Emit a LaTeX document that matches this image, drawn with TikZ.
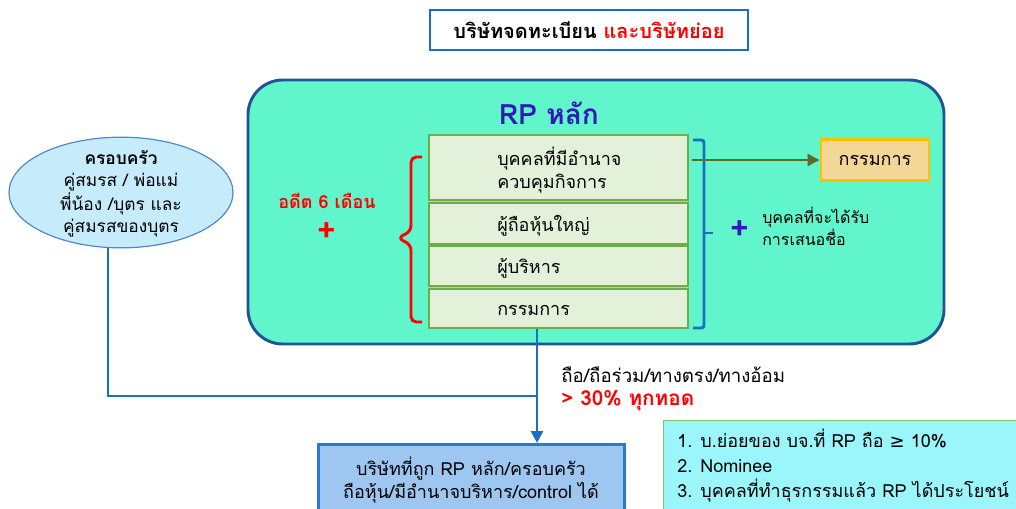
\documentclass[tikz,border=0pt]{standalone}
\usepackage{fontspec}
\setmainfont{Loma}[Script=Thai]
\newfontfamily\symfont{DejaVu Sans}
\usetikzlibrary{arrows.meta,shapes.geometric}
\definecolor{mint}{HTML}{60F5CB}
\definecolor{mainborder}{HTML}{1F5596}
\definecolor{lineblue}{HTML}{1C6DC4}
\definecolor{ellfill}{HTML}{C6ECFC}
\definecolor{ellborder}{HTML}{4E89C8}
\definecolor{boxfill}{HTML}{E3F1DB}
\definecolor{boxborder}{HTML}{70AD47}
\definecolor{dirfill}{HTML}{F2D796}
\definecolor{dirborder}{HTML}{FFC000}
\definecolor{botfill}{HTML}{9DC6F0}
\definecolor{botborder}{HTML}{2B7AD0}
\definecolor{notefill}{HTML}{9BF6FB}
\definecolor{noteborder}{HTML}{7DC36A}
\definecolor{olive}{HTML}{5E6A28}
\definecolor{rpblue}{HTML}{3418B8}
\definecolor{thred}{HTML}{FF0000}
\tikzset{
  body/.style={font=\fontsize{13.5}{17}\selectfont, inner sep=0pt},
  rolebox/.style={draw=boxborder, fill=boxfill, line width=0.9pt, inner sep=0pt},
  txt/.style={body, anchor=west, align=left},
  plussign/.style={font=\fontsize{24}{24}\selectfont\bfseries, inner sep=0pt},
}
\begin{document}
\begin{tikzpicture}[x=0.75pt,y=-0.75pt]
\useasboundingbox (0,0) rectangle (1016,508);
% top title
\node[draw=lineblue, fill=white, line width=2.2pt, minimum width=238.5pt, minimum height=30pt, inner sep=0pt,
      font=\fontsize{15}{17}\selectfont\bfseries] (title) at (589,30)
  {บริษัทจดทะเบียน \textcolor{thred}{และบริษัทย่อย}};
% main rounded box
\node[draw=mainborder, fill=mint, line width=2.2pt, rounded corners=26pt, minimum width=522pt, minimum height=198pt, inner sep=0pt] (main) at (596,212) {};
\node[font=\fontsize{21}{24}\selectfont\bfseries, text=rpblue, inner sep=0pt] (rp) at (549,113) {RP หลัก};
% role boxes
\node[rolebox, minimum width=194.25pt, minimum height=48.75pt] (b1) at (558.5,167.5) {};
\node[rolebox, minimum width=194.25pt, minimum height=30.75pt] (b2) at (558.5,223.5) {};
\node[rolebox, minimum width=194.25pt, minimum height=30pt] (b3) at (558.5,266) {};
\node[rolebox, minimum width=194.25pt, minimum height=29.25pt] (b4) at (558.5,308.5) {};
\node[txt] (t1) at (497,170) {บุคคลที่มีอำนาจ\\ควบคุมกิจการ};
\node[txt] (t2) at (497,226) {ผู้ถือหุ้นใหญ่};
\node[txt] (t3) at (497,268) {ผู้บริหาร};
\node[txt] (t4) at (497,310) {กรรมการ};
% red brace
\draw[thred, line width=2.2pt, rounded corners=4pt] (422,157) -- (411,157) -- (411,231) -- (398,238) -- (411,245) -- (411,322) -- (422,322);
\node[body, font=\fontsize{13.5}{17}\selectfont\bfseries, text=thred] (past) at (327,201) {อดีต 6 เดือน};
\node[plussign, text=thred] (plusr) at (327,232) {+};
% blue bracket
\draw[lineblue, line width=2.2pt, rounded corners=2pt] (693,140) -- (704,140) -- (704,328) -- (693,328);
\draw[lineblue, line width=2.2pt] (704,233) -- (713,233);
\node[plussign, text=rpblue] (plusb) at (740,230) {+};
\node[txt, font=\fontsize{12}{15}\selectfont] (nom) at (762,226) {บุคคลที่จะได้รับ\\การเสนอชื่อ};
% director box
\node[draw=dirborder, fill=dirfill, line width=2.2pt, minimum width=81pt, minimum height=31pt, inner sep=0pt, body] (dir) at (875,160) {กรรมการ};
\draw[olive, line width=2.2pt, -{Triangle[length=9pt,width=9pt]}] (b1.east |- dir.west) ++(3,0) coordinate (o1) -- (dir.west);
% family ellipse
\node[ellipse, draw=ellborder, fill=ellfill, line width=0.9pt, minimum width=168pt, minimum height=83pt, inner sep=0pt] (fam) at (121,192.5) {};
\node[body, align=center, font=\fontsize{13}{16.5}\selectfont] (famt) at (121,194) {\textbf{ครอบครัว}\\คู่สมรส / พ่อแม่\\พี่น้อง /บุตร และ\\คู่สมรสของบุตร};
% bottom company box
\node[draw=botborder, fill=botfill, line width=2.2pt, minimum width=229.5pt, minimum height=60pt, inner sep=0pt, anchor=north] (comp) at (471.5,443) {};
\node[body, align=center] (compt) at (471,480) {บริษัทที่ถูก RP หลัก/ครอบครัว\\ถือหุ้น/มีอำนาจบริหาร/control ได้};
% connectors
\coordinate (famcorner) at (108,396);
\coordinate (join) at (537,396);
\draw[lineblue, line width=2.2pt] (fam.south -| famcorner) -- (famcorner) -- (join);
\draw[lineblue, line width=2.2pt, -{Triangle[length=9pt,width=9pt]}] (b4.south -| join) -- (comp.north -| join);
\node[txt, font=\fontsize{14}{17}\selectfont] (hold) at (561,375) {ถือ/ถือร่วม/ทางตรง/ทางอ้อม};
\node[txt, font=\fontsize{15.5}{17}\selectfont\bfseries, text=thred] (pct) at (561,401) {> 30\% ทุกทอด};
% note box
\node[draw=noteborder, fill=notefill, line width=0.9pt, minimum width=285pt, minimum height=75pt, inner sep=0pt, anchor=north west] (note) at (663,420) {};
\node[txt, font=\fontsize{13.5}{18.75}\selectfont] (notet) at (677,466) {1. บ.ย่อยของ บจ.ที่ RP ถือ {\symfont ≥} 10\%\\2. Nominee\\3. บุคคลที่ทำธุรกรรมแล้ว RP ได้ประโยชน์};
\end{tikzpicture}
\end{document}
